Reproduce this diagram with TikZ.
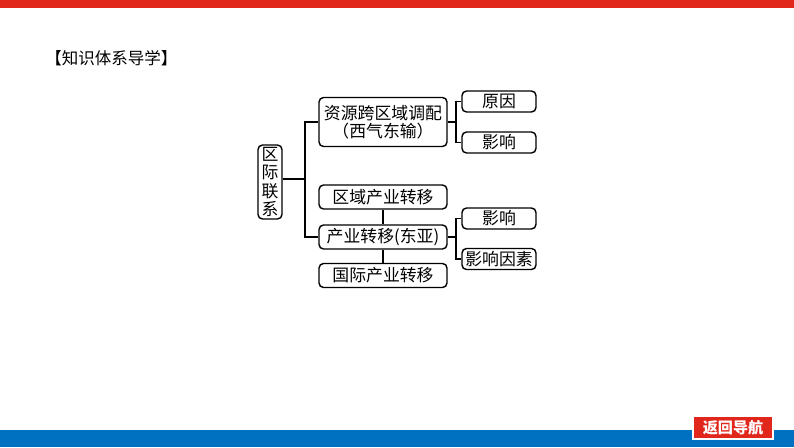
\documentclass[tikz,border=0pt]{standalone}
\usepackage{fontspec}
\newfontfamily\cjk{Noto Sans CJK SC}
\definecolor{barred}{HTML}{E1261C}
\definecolor{barblue}{HTML}{0070C0}

\begin{document}
\begin{tikzpicture}[
            x=0.02cm, y=-0.02cm,
            box/.style={draw=black, line width=0.8pt, rounded corners=0.09cm, inner sep=1pt,
                        align=center, font=\cjk\fontsize{9.6}{10.4}\selectfont},
            midbox/.style={box, minimum width=2.56cm, minimum height=0.48cm},
            smallbox/.style={box, minimum width=1.48cm, minimum height=0.42cm},
            link/.style={line width=0.6pt, color=black}
        ]
            \useasboundingbox (0,0) rectangle (794,447);

            % bars
            \fill[barred] (0,0) rectangle (794,7.5);
            \fill[barblue] (0,430) rectangle (794,447);

            % title
            \node[anchor=west, inner sep=0pt, font=\cjk\fontsize{9.4}{10}\selectfont] (title) at (45,58) {【知识体系导学】};

            % root
            \node[box, minimum width=0.48cm, minimum height=1.48cm] (qj) at (270,182) {区\\际\\联\\系};

            % middle column
            \node[midbox, minimum height=0.98cm] (zy) at (383,122) {资源跨区域调配\\（西气东输）};
            \node[midbox] (qy) at (383,197) {区域产业转移};
            \node[midbox] (cy) at (383,237) {产业转移(东亚)};
            \node[midbox] (gj) at (383,275.5) {国际产业转移};

            % right column
            \node[smallbox] (yy) at (499,101.5) {原因};
            \node[smallbox] (yx1) at (499,142.5) {影响};
            \node[smallbox] (yx2) at (499,218.5) {影响};
            \node[smallbox] (ys) at (499,259) {影响因素};

            % joints
            \coordinate (jL) at (305,179);
            \coordinate (jR1) at (456,122);
            \coordinate (jR2) at (456,237);

            % connectors
            \draw[link] (qj.east |- jL) -- (jL);
            \draw[link] (zy.west) -| (jL) |- (cy.west);
            \draw[link] (zy.east) -- (jR1);
            \draw[link] (yy.west) -| (jR1) |- (yx1.west);
            \draw[link] (cy.east) -- (jR2);
            \draw[link] (yx2.west) -| (jR2) |- (ys.west);
            \draw[link] (qy.south) -- (cy.north);
            \draw[link] (cy.south) -- (gj.north);

            % back button
            \node[fill=barred, draw=white, line width=0.8pt, minimum width=1.6cm, minimum height=0.46cm,
                  inner sep=0pt, text=white, font=\cjk\bfseries\fontsize{8.6}{9}\selectfont] (back) at (733,427.5) {返回导航};

        \end{tikzpicture}
\end{document}
